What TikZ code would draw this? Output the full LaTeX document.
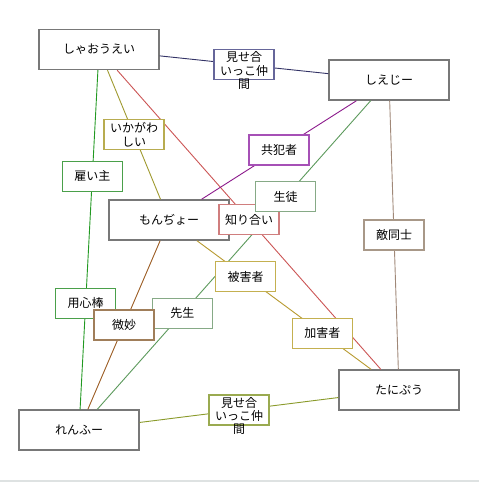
\documentclass[tikz,border=0pt]{standalone}
\usepackage{fontspec}
\newfontfamily\jpfont{Noto Sans CJK JP}
\usetikzlibrary{calc}
\definecolor{mgray}{HTML}{787878}
\definecolor{band}{HTML}{DEE2E2}
\definecolor{lNavy}{HTML}{333366}\definecolor{bNavy}{HTML}{66669A}
\definecolor{lGreen}{HTML}{229922}\definecolor{bGreen}{HTML}{4AA04A}
\definecolor{lOlive}{HTML}{A09A30}\definecolor{bOlive}{HTML}{B8AC50}
\definecolor{lRed}{HTML}{CC5555}\definecolor{bRed}{HTML}{D07E7E}
\definecolor{lPurple}{HTML}{8C1A8C}\definecolor{bPurple}{HTML}{A650B6}
\definecolor{lGG}{HTML}{5C9A5C}\definecolor{bGG}{HTML}{86AA86}
\definecolor{lBG}{HTML}{A08878}\definecolor{bBG}{HTML}{A89888}
\definecolor{lYel}{HTML}{B89A30}\definecolor{bYel}{HTML}{C4B050}
\definecolor{lBrown}{HTML}{9A5A20}\definecolor{bBrown}{HTML}{A07E5A}
\definecolor{lOG}{HTML}{8A9A2A}\definecolor{bOG}{HTML}{9AAA50}
\tikzset{
  mainbox/.style={draw=mgray, line width=1.4pt, fill=white, minimum width=120pt,
    minimum height=40pt, inner sep=0pt, font=\jpfont\fontsize{12}{13.3}\selectfont},
  lblbox/.style={draw=#1, line width=1.1pt, fill=white, minimum width=60pt,
    minimum height=30pt, inner sep=0pt, align=center,
    font=\jpfont\fontsize{12}{13.3}\selectfont},
  lbltext/.style={inner sep=0pt, align=center, anchor=north, yshift=-2.5pt,
    font=\jpfont\fontsize{12}{13.3}\selectfont},
  edge/.style={draw=#1, line width=0.9pt}
}
\begin{document}
\begin{tikzpicture}[x=1pt,y=-1pt]
\fill[white] (0,0) rectangle (479,482);
\fill[band] (0,480) rectangle (479,482);
\useasboundingbox (0,0) rectangle (479,482);

\node[mainbox] (sh) at (99,49.5) {しゃおうえい};
\node[mainbox] (si) at (389,80) {しえじー};
\node[mainbox] (mo) at (169,220) {もんぢょー};
\node[mainbox] (ta) at (399,390) {たにぷう};
\node[mainbox] (re) at (79,430) {れんふー};

\draw[edge=lNavy] (sh) -- (si);
\draw[edge=lGreen] (sh) -- (re);
\draw[edge=lOlive] (sh) -- (mo);
\draw[edge=lRed] (sh) -- (ta);
\draw[edge=lPurple] (si) -- (mo);
\draw[edge=lGG] (si) -- (re);
\draw[edge=lBG] (si) -- (ta);
\draw[edge=lYel] (mo) -- (ta);
\draw[edge=lBrown] (mo) -- (re);
\draw[edge=lOG] (re) -- (ta);

\node[lblbox=bNavy] (l1) at ($(sh)!0.5!(si)$) {};
\node[lbltext] (t1) at (l1.north) {見せ合\\いっこ仲\\間};
\node[lblbox=bGreen] (l2) at ($(sh)!1/3!(re)$) {雇い主};
\node[lblbox=bGreen] (l3) at ($(sh)!2/3!(re)$) {用心棒};
\node[lblbox=bOlive] (l4) at ($(sh)!0.5!(mo)$) {いかがわ\\しい};
\node[lblbox=bRed] (l5) at ($(sh)!0.5!(ta)$) {知り合い};
\node[lblbox=bPurple] (l6) at ($(si)!0.5!(mo)$) {共犯者};
\node[lblbox=bGG] (l7) at ($(si)!1/3!(re)$) {生徒};
\node[lblbox=bGG] (l8) at ($(si)!2/3!(re)$) {先生};
\node[lblbox=bBG] (l9) at ($(si)!0.5!(ta)$) {敵同士};
\node[lblbox=bYel] (l10) at ($(mo)!1/3!(ta)$) {被害者};
\node[lblbox=bYel] (l11) at ($(mo)!2/3!(ta)$) {加害者};
\node[lblbox=bBrown] (l12) at ($(mo)!0.5!(re)$) {微妙};
\node[lblbox=bOG] (l13) at ($(re)!0.5!(ta)$) {};
\node[lbltext] (t13) at (l13.north) {見せ合\\いっこ仲\\間};
\end{tikzpicture}
\end{document}
